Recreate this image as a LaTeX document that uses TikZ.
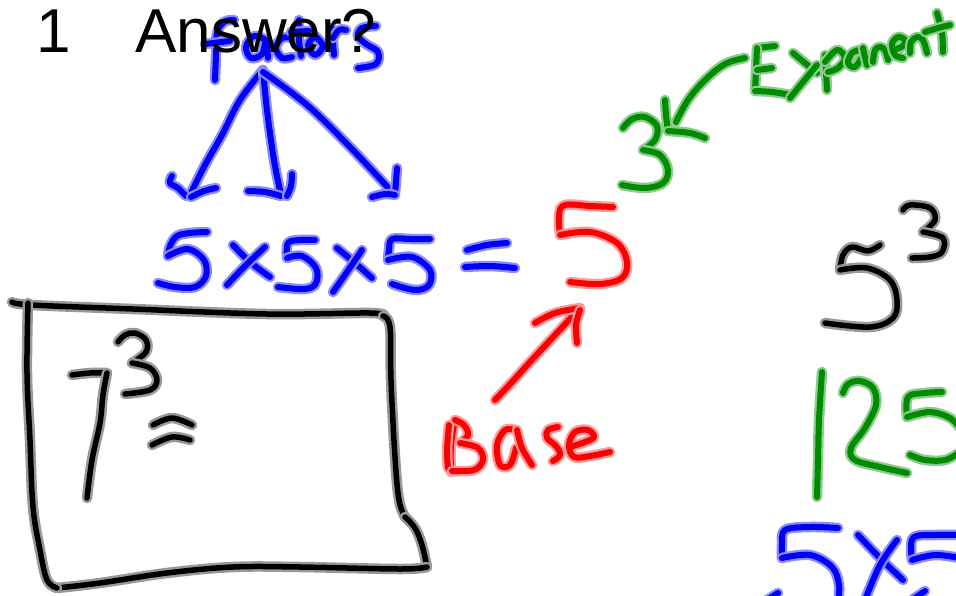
\documentclass[tikz,border=0pt]{standalone}
\usepackage{fontspec}
\setmainfont{Liberation Sans}
\definecolor{inkblue}{RGB}{0,0,250}
\definecolor{inkred}{RGB}{250,0,0}
\definecolor{inkgreen}{RGB}{0,140,0}
\definecolor{inkblack}{RGB}{0,0,0}
\tikzset{
  pen/.style={line width=6pt, line cap=round, line join=round},
  halo/.style={preaction={draw=#1, line width=10.5pt, line cap=round, line join=round}},
  blueink/.style={pen, draw=inkblue, halo=inkblue!45},
  redink/.style={pen, draw=inkred, halo=inkred!40},
  greenink/.style={pen, draw=inkgreen, halo=inkgreen!45},
  blackink/.style={pen, line width=5.5pt, draw=inkblack, halo=black!40},
  stroke/.style={smooth, tension=0.6},
  heading/.style={font=\fontsize{62}{64}\selectfont, inner sep=0pt, anchor=base west}
}
\begin{document}
\begin{tikzpicture}[x=1pt,y=-1pt]
\fill[white] (0,0) rectangle (956,595);
\useasboundingbox (0,0) rectangle (956,595);

% ---- "factors" with three arrows ----
\begin{scope}[ink/.style=blueink]
  \draw[ink] plot[stroke] coordinates {(215,80) (216,55) (217,33) (224,22) (234,20)};
  \draw[ink] plot[stroke] coordinates {(205,44) (230,41)};
  \draw[ink] plot[stroke] coordinates {(266,40) (254,36) (246,47) (251,58) (262,54) (266,40) (268,58)};
  \draw[ink] plot[stroke] coordinates {(292,38) (282,38) (276,48) (282,58) (292,57)};
  \draw[ink] plot[stroke] coordinates {(299,20) (299,40) (301,56)};
  \draw[ink] plot[stroke] coordinates {(291,32) (309,31)};
  \draw[ink] plot[stroke] coordinates {(315,36) (308,45) (315,55) (323,46) (315,36)};
  \draw[ink] plot[stroke] coordinates {(332,28) (333,42) (334,55)};
  \draw[ink] plot[stroke] coordinates {(333,38) (339,30) (346,30)};
  \draw[ink] plot[stroke] coordinates {(376,26) (362,28) (358,36) (366,44) (378,52) (376,64) (358,68)};
  % arrows
  \draw[ink] plot[stroke] coordinates {(263,70) (240,100) (222,135) (205,165) (190,195)};
  \draw[ink] plot[stroke] coordinates {(172,176) (170,183) (178,188) (186,196)};
  \draw[ink] plot[stroke] coordinates {(216,188) (204,191) (191,197)};
  \draw[ink] plot[stroke] coordinates {(263,70) (267,110) (274,160) (281,195)};
  \draw[ink] plot[stroke] coordinates {(248,191) (265,192) (281,196)};
  \draw[ink] plot[stroke] coordinates {(292,174) (291,186) (287,196)};
  \draw[ink] plot[stroke] coordinates {(263,72) (307,105) (350,147) (393,193)};
  \draw[ink] plot[stroke] coordinates {(397,168) (396,182) (395,193)};
  \draw[ink] plot[stroke] coordinates {(372,197) (385,194) (395,195)};
\end{scope}

% ---- heading ----
\node[heading] (num) at (36,52) {1};
\node[heading] (answer) at (135,52) {Answer?};

% ---- 5x5x5 = ----
\begin{scope}[ink/.style=blueink]
  \draw[ink] plot[stroke] coordinates {(207,232) (190,233) (177,236) (170,246) (168,256)};
  \draw[ink] plot[stroke] coordinates {(168,256) (188,249) (204,260) (206,276) (195,287) (175,287) (158,283)};
  \draw[ink] plot[stroke] coordinates {(233,245) (250,262) (270,277)};
  \draw[ink] plot[stroke] coordinates {(265,247) (245,266) (227,285)};
  \draw[ink] plot[stroke] coordinates {(315,240) (300,240) (288,243) (287,258)};
  \draw[ink] plot[stroke] coordinates {(287,258) (302,256) (316,268) (316,283) (305,289) (278,287)};
  \draw[ink] plot[stroke] coordinates {(337,248) (355,263) (372,278)};
  \draw[ink] plot[stroke] coordinates {(362,250) (347,272) (333,292)};
  \draw[ink] plot[stroke] coordinates {(430,239) (410,239) (392,239) (389,250) (388,260)};
  \draw[ink] plot[stroke] coordinates {(388,260) (412,257) (430,270) (429,285) (415,290) (392,284)};
  \draw[ink] plot[stroke] coordinates {(467,250) (487,245) (507,243)};
  \draw[ink] plot[stroke] coordinates {(465,267) (490,266) (515,268)};
\end{scope}

% ---- red base 5 and "Base" ----
\begin{scope}[ink/.style=redink]
  \draw[ink] plot[stroke] coordinates {(613,207) (590,206) (565,205) (559,215) (560,235)};
  \draw[ink] plot[stroke] coordinates {(560,235) (590,232) (617,243) (627,262) (622,278) (600,284) (570,282)};
  \draw[ink] plot[stroke] coordinates {(495,400) (512,382) (530,362) (555,335) (580,308)};
  \draw[ink] plot[stroke] coordinates {(535,323) (555,313) (580,308)};
  \draw[ink] plot[stroke] coordinates {(580,310) (576,325) (577,343)};
  \draw[ink] plot[stroke] coordinates {(455,420) (451,445) (451,472)};
  \draw[ink] plot[stroke] coordinates {(449,425) (447,450) (448,468)};
  \draw[ink] plot[stroke] coordinates {(455,420) (464,425) (468,435) (460,443)};
  \draw[ink] plot[stroke] coordinates {(460,443) (478,448) (483,460) (474,470) (452,471)};
  \draw[ink] plot[stroke] coordinates {(515,430) (505,430) (497,445) (500,465) (510,465) (516,448)};
  \draw[ink] plot[stroke] coordinates {(517,430) (522,448) (532,465)};
  \draw[ink] plot[stroke] coordinates {(558,427) (548,430) (547,438) (556,446) (560,455) (553,461)};
  \draw[ink] plot[stroke] coordinates {(570,447) (585,442) (594,437) (588,430) (575,432) (569,445) (574,457) (590,456) (610,452)};
\end{scope}

% ---- green exponent 3, "Expanent" and 125 ----
\begin{scope}[ink/.style=greenink]
  \draw[ink] plot[stroke] coordinates {(623,128) (632,119) (645,117) (657,126) (655,140) (643,150)};
  \draw[ink] plot[stroke] coordinates {(643,150) (660,155) (668,170) (663,183) (645,188) (622,185)};
  \draw[ink] plot[stroke] coordinates {(665,100) (666,115) (668,131)};
  \draw[ink] plot[stroke] coordinates {(668,131) (690,133) (705,138)};
  \draw[ink] plot[stroke] coordinates {(745,58) (725,64) (705,80) (688,100) (676,122)};
  % E
  \draw[ink] plot[stroke] coordinates {(775,46) (766,47) (757,48)};
  \draw[ink] plot[stroke] coordinates {(757,48) (756,70) (755,91)};
  \draw[ink] plot[stroke] coordinates {(757,70) (772,68)};
  \draw[ink] plot[stroke] coordinates {(755,91) (772,92) (791,95)};
  % x
  \draw[ink] plot[stroke] coordinates {(793,53) (805,63) (817,73)};
  \draw[ink] plot[stroke] coordinates {(817,65) (803,82) (790,98)};
  % p
  \draw[ink] plot[stroke] coordinates {(825,55) (826,72) (827,90)};
  \draw[ink] plot[stroke] coordinates {(825,62) (837,50) (845,58) (838,68) (828,72)};
  % a
  \draw[ink] plot[stroke] coordinates {(860,50) (852,53) (848,63) (855,67) (862,57)};
  \draw[ink] plot[stroke] coordinates {(863,48) (865,57) (867,65)};
  % n
  \draw[ink] plot[stroke] coordinates {(873,62) (875,50) (880,47) (885,50) (888,60)};
  % e
  \draw[ink] plot[stroke] coordinates {(893,50) (903,46) (905,40) (898,37) (892,44) (895,55) (903,58)};
  % n
  \draw[ink] plot[stroke] coordinates {(910,53) (911,42) (917,37) (923,40) (927,53)};
  % t
  \draw[ink] plot[stroke] coordinates {(937,13) (942,33) (943,52)};
  \draw[ink] plot[stroke] coordinates {(925,32) (938,28) (950,25)};
  % 125
  \draw[ink] plot[stroke] coordinates {(822,372) (819,420) (818,460) (817,497)};
  \draw[ink] plot[stroke] coordinates {(843,393) (848,384) (860,381) (873,388) (876,405) (865,428) (851,448) (855,460) (880,467) (907,473)};
  \draw[ink] plot[stroke] coordinates {(942,392) (925,393) (908,397) (907,417)};
  \draw[ink] plot[stroke] coordinates {(907,417) (930,412) (950,418) (960,428)};
  \draw[ink] plot[stroke] coordinates {(910,455) (925,460) (945,460) (960,452)};
\end{scope}

% ---- black box with 7^3 =, and 5^3 ----
\begin{scope}[ink/.style=blackink]
  \draw[ink] plot[stroke] coordinates {(12,302) (32,305) (133,309) (267,314) (370,313) (383,316)};
  \draw[ink] plot[stroke] coordinates {(383,316) (390,327) (391,380) (395,457) (399,500) (405,517)};
  \draw[ink] plot[stroke] coordinates {(405,517) (415,528) (422,545) (427,567)};
  \draw[ink] plot[stroke] coordinates {(427,567) (400,569) (300,567) (233,567) (167,573) (100,583) (57,588)};
  \draw[ink] plot[stroke] coordinates {(57,588) (47,580) (40,550) (33,507) (30,440) (27,373) (28,303)};
  \draw[ink] plot[stroke] coordinates {(72,375) (90,373) (107,373)};
  \draw[ink] plot[stroke] coordinates {(107,373) (103,395) (100,423) (92,460) (87,498)};
  \draw[ink] plot[stroke] coordinates {(118,342) (125,335) (135,333) (146,340) (146,352) (132,363)};
  \draw[ink] plot[stroke] coordinates {(132,363) (150,368) (157,380) (150,390) (125,394)};
  \draw[ink] plot[stroke] coordinates {(153,425) (172,418) (192,425)};
  \draw[ink] plot[stroke] coordinates {(152,445) (172,437) (190,440)};
  \draw[ink] plot[stroke] coordinates {(880,245) (868,251) (852,247) (843,255) (840,270)};
  \draw[ink] plot[stroke] coordinates {(840,270) (867,268) (890,280) (897,300) (893,318) (870,327) (825,323)};
  \draw[ink] plot[stroke] coordinates {(903,210) (910,205) (930,208) (935,220) (923,232)};
  \draw[ink] plot[stroke] coordinates {(923,232) (943,238) (942,252) (930,257) (912,258)};
\end{scope}

% ---- 5x5 at the bottom right ----
\begin{scope}[ink/.style=blueink]
  \draw[ink] plot[stroke] coordinates {(838,528) (810,527) (785,530) (782,545) (782,558)};
  \draw[ink] plot[stroke] coordinates {(782,558) (810,555) (832,567) (839,585) (838,602)};
  \draw[ink] plot[stroke] coordinates {(764,602) (778,593)};
  \draw[ink] plot[stroke] coordinates {(858,535) (880,558) (903,580)};
  \draw[ink] plot[stroke] coordinates {(897,540) (880,565) (865,600)};
  \draw[ink] plot[stroke] coordinates {(958,535) (935,535) (913,538) (912,560)};
  \draw[ink] plot[stroke] coordinates {(912,560) (935,555) (960,558)};
  \draw[ink] plot[stroke] coordinates {(912,600) (925,591)};
\end{scope}
\end{tikzpicture}
\end{document}
